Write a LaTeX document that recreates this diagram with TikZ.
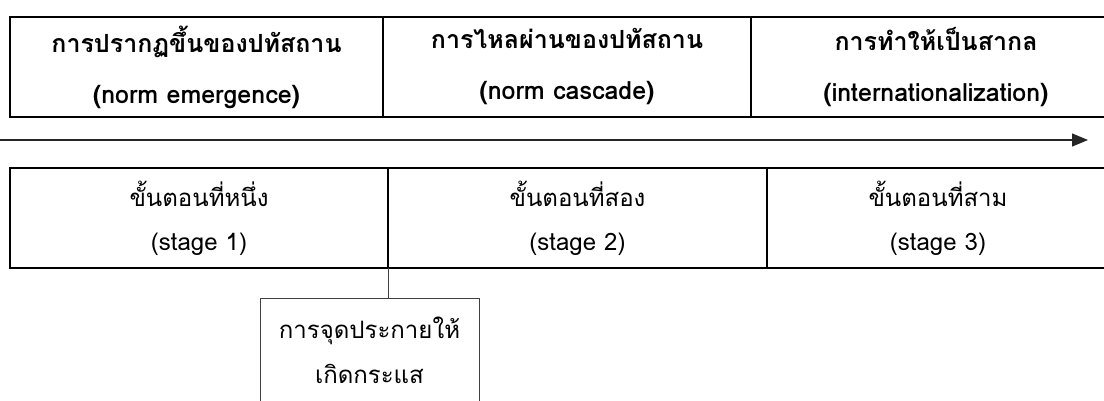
\documentclass[tikz,border=0pt]{standalone}
\usepackage{fontspec}
\setmainfont[Script=Thai]{Loma}
\usetikzlibrary{arrows.meta,positioning}
\tikzset{
    raw cell/.style={rectangle, draw, inner sep=0pt, outer sep=0pt, align=center, anchor=north west},
    phase cell/.style={raw cell, line width=2pt, minimum height=100pt, font=\bfseries\fontsize{25}{51}\selectfont},
    stage cell/.style={raw cell, line width=2pt, minimum height=100pt, font=\fontsize{24}{44}\selectfont},
    spark box/.style={raw cell, thin, draw=black!75, minimum width=219pt, minimum height=105pt, font=\fontsize{24}{45}\selectfont},
    flow/.style={-{Triangle[length=16pt,width=13pt]}, line width=1.3pt, black!85}
}

\begin{document}
\begin{tikzpicture}[x=1pt,y=-1pt]
		\useasboundingbox (0,0) rectangle (1104,400);
		% top row
		\node[phase cell, minimum width=373pt] (emergence) at (10,17) {การปรากฏขึ้นของปทัสถาน\\(norm emergence)};
		\node[phase cell, minimum width=368pt, right=0pt of emergence] (cascade) {การไหลผ่านของปทัสถาน\\(norm cascade)};
		\node[phase cell, minimum width=370pt, right=0pt of cascade] (internal) {การทำให้เป็นสากล\\(internationalization)};
		% arrow
		\coordinate (flowstart) at (0,140);
		\coordinate (flowend) at (1088,140);
		\draw[flow] (flowstart) -- (flowend);
		% bottom row
		\node[stage cell, minimum width=378pt] (stage1) at (10,168) {ขั้นตอนที่หนึ่ง\\(stage 1)};
		\node[stage cell, minimum width=379pt, right=0pt of stage1] (stage2) {ขั้นตอนที่สอง\\(stage 2)};
		\node[stage cell, minimum width=342pt, right=0pt of stage2] (stage3) {ขั้นตอนที่สาม\\(stage 3)};
		% tipping point
		\node[spark box] (spark) at (260,298) {การจุดประกายให้\\เกิดกระแส};
		\draw[thin, black!75] (stage1.south east) -- (stage1.south east |- spark.north);
	\end{tikzpicture}
\end{document}
